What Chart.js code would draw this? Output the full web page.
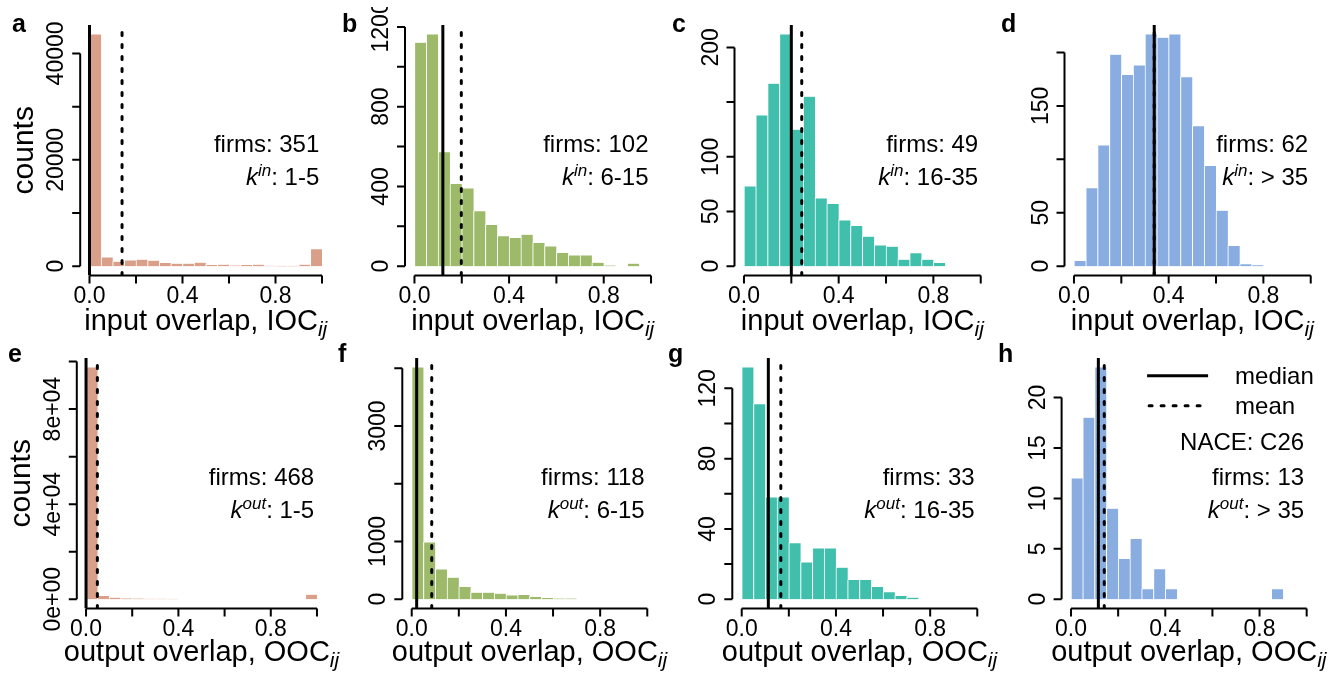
<!DOCTYPE html>
<html>
<head>
<meta charset="utf-8">
<script src="https://cdn.jsdelivr.net/npm/chart.js@4.4.1/dist/chart.umd.min.js"></script>
<style>
  html, body { margin: 0; padding: 0; background: #fff; }
  #wrap { position: relative; width: 1338px; height: 673px; overflow: hidden; }
  #wrap canvas { position: absolute; left: 0; top: 0; }
</style>
</head>
<body>
<div id="wrap"></div>
<script>
// histogram bins (mid points, width 0.05)
const binMids = [0.025, 0.075, 0.125, 0.175, 0.225, 0.275, 0.325, 0.375, 0.425, 0.475,
                 0.525, 0.575, 0.625, 0.675, 0.725, 0.775, 0.825, 0.875, 0.925, 0.975];

// counts per bin, input overlap (a-d) and output overlap (e-h)
const countsA = [43600, 1690, 880, 1130, 1250, 1070, 630, 500, 500, 690, 250, 310, 120, 250, 310, 60, 20, 10, 310, 3200];
const countsB = [1121, 1163, 572, 413, 390, 276, 207, 151, 142, 159, 117, 100, 67, 55, 54, 18, 3, 0, 13, 0];
const countsC = [73, 138, 167, 212, 125, 155, 62, 57, 42, 37, 27, 19, 18, 6, 12, 6, 3, 0, 0, 0];
const countsD = [5, 73, 113, 198, 179, 188, 217, 214, 217, 177, 131, 94, 52, 19, 2, 1, 0, 0, 0, 0];
const countsE = [97600, 1400, 700, 400, 300, 200, 150, 100, 0, 0, 0, 0, 0, 0, 0, 0, 0, 0, 0, 2000];
const countsF = [4017, 987, 519, 375, 214, 115, 115, 98, 69, 75, 40, 23, 12, 10, 0, 0, 0, 0, 0, 0];
const countsG = [132, 111, 58, 58, 32, 21, 29, 29, 18, 11, 11, 7, 4, 2, 1, 0, 0, 0, 0, 0];
const countsH = [12, 18, 23, 9, 4, 6, 1, 3, 1, 0, 0, 0, 0, 0, 0, 0, 0, 1, 0, 0];

const medians = [0.0, 0.12, 0.2, 0.339, 0.0, 0.021, 0.113, 0.116];
const means   = [0.14, 0.198, 0.244, 0.339, 0.049, 0.085, 0.166, 0.141];
const firms   = [351, 102, 49, 62, 468, 118, 33, 13];
const degreeRanges = ['1-5', '6-15', '16-35', '> 35'];
const panelLetters = ['a', 'b', 'c', 'd', 'e', 'f', 'g', 'h'];

// axis ticks
const xTicks = [0, 0.2, 0.4, 0.6, 0.8, 1.0];
const xTickLabels = ['0.0', '', '0.4', '', '0.8', ''];
const yTicksA = [0, 10000, 20000, 30000, 40000];
const yLabelsA = ['0', '', '20000', '', '40000'];
const yTicksB = [0, 200, 400, 600, 800, 1000, 1200];
const yLabelsB = ['0', '', '400', '', '800', '', '1200'];
const yTicksC = [0, 50, 100, 150, 200];
const yLabelsC = ['0', '50', '100', '', '200'];
const yTicksD = [0, 50, 100, 150, 200];
const yLabelsD = ['0', '50', '', '150', ''];
const yTicksE = [0, 20000, 40000, 60000, 80000, 100000];
const yLabelsE = ['0e+00', '', '4e+04', '', '8e+04', ''];
const yTicksF = [0, 1000, 2000, 3000, 4000];
const yLabelsF = ['0', '1000', '', '3000', ''];
const yTicksG = [0, 20, 40, 60, 80, 100, 120];
const yLabelsG = ['0', '', '40', '', '80', '', '120'];
const yTicksH = [0, 5, 10, 15, 20];
const yLabelsH = ['0', '5', '10', '15', '20'];

const counts = [countsA, countsB, countsC, countsD, countsE, countsF, countsG, countsH];
const yTicks = [yTicksA, yTicksB, yTicksC, yTicksD, yTicksE, yTicksF, yTicksG, yTicksH];
const yLabels = [yLabelsA, yLabelsB, yLabelsC, yLabelsD, yLabelsE, yLabelsF, yLabelsG, yLabelsH];

const colors = ['#DA9F88', '#9DB96A', '#3FBFAC', '#89ADE0'];

// plot regions (page pixels)
const areas = [
  {l: 80.2, r: 331.3, t: 25, b: 275.5},
  {l: 405, r: 660.5, t: 25, b: 275.5},
  {l: 734.5, r: 990.2, t: 25, b: 275.5},
  {l: 1064.5, r: 1320.2, t: 25, b: 275.5},
  {l: 76.8, r: 326.2, t: 358, b: 608.5},
  {l: 402.3, r: 656.7, t: 358, b: 608.5},
  {l: 732.3, r: 986.7, t: 358, b: 608.5},
  {l: 1061.6, r: 1316.1, t: 358, b: 608.5}
];
const letterPos = [[12, 32], [342, 32], [672, 32], [1001, 32], [8, 362], [338, 362], [668, 362], [998, 362]];

const FONT = '"Liberation Sans", Arial, Helvetica, sans-serif';
const W = 1338, H = 673;

// draw runs of text pieces, aligned at x
function richText(ctx, parts, x, y, align) {
  let total = 0;
  parts.forEach(p => { ctx.font = p.font; total += ctx.measureText(p.t).width; });
  let cx = align === 'center' ? x - total / 2 : x - total;
  ctx.textAlign = 'left';
  parts.forEach(p => {
    ctx.font = p.font;
    ctx.fillText(p.t, cx, y + (p.dy || 0));
    cx += ctx.measureText(p.t).width;
  });
}

const rPlot = {
  id: 'rPlot',
  afterDatasetsDraw(chart, args, o) {
    const ctx = chart.ctx, xs = chart.scales.x, ys = chart.scales.y, ca = chart.chartArea;
    const i = o.index, row = i < 4 ? 0 : 1;
    const tick = 8;
    ctx.save();
    ctx.strokeStyle = '#000';
    ctx.fillStyle = '#000';
    ctx.lineWidth = 2;

    // x axis
    const xb = ca.bottom;
    ctx.beginPath();
    ctx.moveTo(xs.getPixelForValue(xTicks[0]), xb);
    ctx.lineTo(xs.getPixelForValue(xTicks[xTicks.length - 1]), xb);
    xTicks.forEach(v => {
      const px = xs.getPixelForValue(v);
      ctx.moveTo(px, xb);
      ctx.lineTo(px, xb + tick);
    });
    ctx.stroke();
    ctx.font = '23px ' + FONT;
    ctx.textAlign = 'center';
    ctx.textBaseline = 'alphabetic';
    xTicks.forEach((v, k) => {
      if (xTickLabels[k]) ctx.fillText(xTickLabels[k], xs.getPixelForValue(v), xb + 27.5);
    });

    // y axis
    const yt = yTicks[i], yl = yLabels[i];
    const xl = ca.left;
    ctx.beginPath();
    ctx.moveTo(xl, ys.getPixelForValue(yt[0]));
    ctx.lineTo(xl, ys.getPixelForValue(yt[yt.length - 1]));
    yt.forEach(v => {
      const py = ys.getPixelForValue(v);
      ctx.moveTo(xl, py);
      ctx.lineTo(xl - tick, py);
    });
    ctx.stroke();
    ctx.save();
    ctx.beginPath();
    ctx.rect(0, row === 0 ? 7 : 337, W, H);
    ctx.clip();
    yt.forEach((v, k) => {
      if (!yl[k]) return;
      ctx.save();
      ctx.translate(xl - 17, ys.getPixelForValue(v));
      ctx.rotate(-Math.PI / 2);
      ctx.fillText(yl[k], 0, 0);
      ctx.restore();
    });
    ctx.restore();

    // axis titles
    const mid = (ca.left + ca.right) / 2;
    const base = row === 0 ? 'input overlap, IOC' : 'output overlap, OOC';
    richText(ctx, [
      {t: base, font: '29px ' + FONT},
      {t: 'ij', font: 'italic 21px ' + FONT, dy: 6}
    ], mid, xb + (row === 0 ? 54.5 : 52), 'center');
    if (i % 4 === 0) {
      ctx.save();
      ctx.translate(ca.left - 47, (ca.top + ca.bottom) / 2);
      ctx.rotate(-Math.PI / 2);
      ctx.font = '30px ' + FONT;
      ctx.textAlign = 'center';
      ctx.fillText('counts', 0, 0);
      ctx.restore();
    }

    // panel letter
    ctx.font = 'bold 25px ' + FONT;
    ctx.textAlign = 'left';
    ctx.fillText(panelLetters[i], letterPos[i][0], letterPos[i][1]);

    // annotations
    const tx = ca.right - 12;
    const sup = row === 0 ? 'in' : 'out';
    ctx.fillStyle = '#000';
    if (o.legend) {
      ctx.lineWidth = 3;
      ctx.beginPath();
      ctx.moveTo(ca.right - 169, ca.top + 17.7);
      ctx.lineTo(ca.right - 108, ca.top + 17.7);
      ctx.stroke();
      ctx.setLineDash([3, 9]);
      ctx.lineCap = 'round';
      ctx.beginPath();
      ctx.moveTo(ca.right - 167, ca.top + 47.7);
      ctx.lineTo(ca.right - 108, ca.top + 47.7);
      ctx.stroke();
      ctx.setLineDash([]);
      ctx.font = '24px ' + FONT;
      ctx.textAlign = 'left';
      ctx.fillText('median', ca.right - 81, ca.top + 17.7 + 8.5);
      ctx.fillText('mean', ca.right - 81, ca.top + 47.7 + 8.5);
      ctx.textAlign = 'right';
      ctx.fillText('NACE: C26', tx, ca.top + 83 + 8.5);
    }
    ctx.font = '24px ' + FONT;
    ctx.textAlign = 'right';
    ctx.fillText('firms: ' + firms[i], tx, ca.top + 118 + 8.5);
    richText(ctx, [
      {t: 'k', font: 'italic 24px ' + FONT},
      {t: sup, font: 'italic 17px ' + FONT, dy: -9},
      {t: ': ' + degreeRanges[i % 4], font: '24px ' + FONT}
    ], tx, ca.top + 151 + 8.5, 'right');
    ctx.restore();
  }
};

const wrap = document.getElementById('wrap');
counts.forEach((data, i) => {
  const cv = document.createElement('canvas');
  cv.width = W;
  cv.height = H;
  wrap.appendChild(cv);
  const a = areas[i];
  const top = Math.max(...data);
  const yMin = -0.04 * top, yMax = 1.04 * top;
  new Chart(cv, {
    type: 'bar',
    data: {
      datasets: [
        {
          type: 'line',
          label: 'median',
          data: [{x: medians[i], y: yMin}, {x: medians[i], y: yMax}],
          borderColor: '#000',
          borderWidth: 3,
          pointRadius: 0,
          order: 0
        },
        {
          type: 'line',
          label: 'mean',
          data: [{x: means[i], y: yMin}, {x: means[i], y: yMax}],
          borderColor: '#000',
          borderWidth: 3,
          borderDash: [3, 9],
          borderCapStyle: 'round',
          pointRadius: 0,
          order: 1
        },
        {
          label: 'counts',
          data: binMids.map((m, k) => ({x: m, y: data[k]})),
          backgroundColor: colors[i % 4],
          borderColor: '#fff',
          borderWidth: {left: 1, top: 0.5, right: 0, bottom: 0},
          barPercentage: 1,
          categoryPercentage: 1,
          order: 2
        }
      ]
    },
    options: {
      responsive: false,
      animation: false,
      devicePixelRatio: 1,
      events: [],
      layout: {padding: {left: a.l, right: W - a.r, top: a.t, bottom: H - a.b}},
      scales: {
        x: {type: 'linear', min: -0.04, max: 1.04, offset: false, display: false},
        y: {type: 'linear', min: yMin, max: yMax, display: false}
      },
      plugins: {
        legend: {display: false},
        tooltip: {enabled: false},
        rPlot: {index: i, legend: i === 7}
      }
    },
    plugins: [rPlot]
  });
});
</script>
</body>
</html>
